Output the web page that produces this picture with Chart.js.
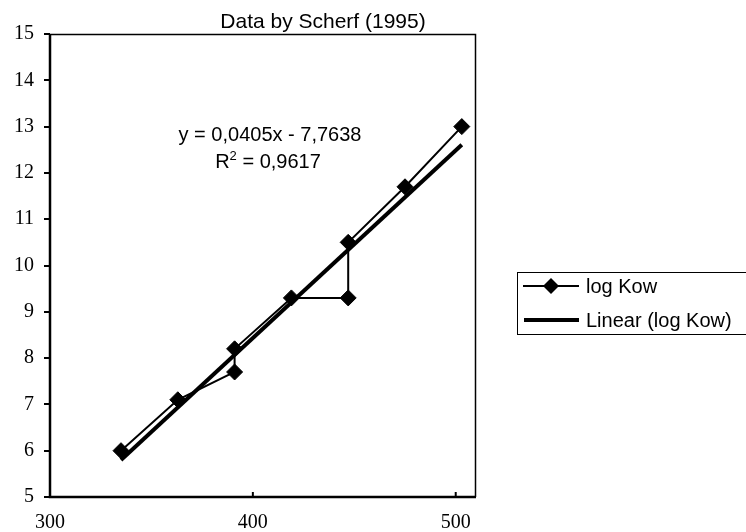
<!DOCTYPE html>
<html>
<head>
<meta charset="utf-8">
<script src="https://cdn.jsdelivr.net/npm/chart.js@4/dist/chart.umd.min.js"></script>
<style>
  html, body { margin: 0; padding: 0; background: #fff; }
  canvas { display: block; }
</style>
</head>
<body>
<canvas id="chart" width="746" height="532"></canvas>
<script>
// data
const mw = [335, 363, 391, 391, 419, 447, 447, 475, 503];
const logKow = [6.0, 7.1, 7.7, 8.2, 9.3, 9.3, 10.5, 11.7, 13.0];

// trendline end points (Excel linear fit)
const trendX = [335, 503];
const trendY = [5.80, 12.61];

const xTicks = [300, 400, 500];
const yTicks = [5, 6, 7, 8, 9, 10, 11, 12, 13, 14, 15];

const titleText = "Data by Scherf (1995)";
const eqText = "y = 0,0405x - 7,7638";
const r2Text = "0,9617";

const SANS = "'Liberation Sans', Arial, sans-serif";
const SERIF = "'Liberation Serif', 'Times New Roman', serif";

// frame, inside x ticks, title, equation and legend
const extras = {
  id: "extras",
  afterDraw(chart) {
    const { ctx, chartArea: a, scales } = chart;
    ctx.save();
    ctx.strokeStyle = "#000";
    ctx.fillStyle = "#000";

    // plot frame
    ctx.lineWidth = 1.5;
    ctx.beginPath();
    ctx.moveTo(a.left, a.top + 0.5);
    ctx.lineTo(a.right - 0.5, a.top + 0.5);
    ctx.lineTo(a.right - 0.5, a.bottom);
    ctx.stroke();
    ctx.lineWidth = 2.5;
    ctx.beginPath();
    ctx.moveTo(a.left, a.top);
    ctx.lineTo(a.left, a.bottom);
    ctx.lineTo(a.right, a.bottom);
    ctx.stroke();

    // x ticks point inwards
    ctx.lineWidth = 2;
    xTicks.forEach(v => {
      const px = scales.x.getPixelForValue(v);
      ctx.beginPath();
      ctx.moveTo(px, a.bottom);
      ctx.lineTo(px, a.bottom - 5);
      ctx.stroke();
    });

    // title
    ctx.font = "21px " + SANS;
    ctx.textAlign = "center";
    ctx.textBaseline = "alphabetic";
    ctx.fillText(titleText, 323, 28);

    // equation + R²
    ctx.font = "20px " + SANS;
    ctx.fillText(eqText, 270, 141);
    const rest = " = " + r2Text;
    const wR = ctx.measureText("R").width;
    const wRest = ctx.measureText(rest).width;
    ctx.font = "13px " + SANS;
    const w2 = ctx.measureText("2").width;
    let sx = 268 - (wR + w2 + wRest) / 2;
    ctx.textAlign = "left";
    ctx.font = "20px " + SANS;
    ctx.fillText("R", sx, 168);
    ctx.font = "13px " + SANS;
    ctx.fillText("2", sx + wR, 160);
    ctx.font = "20px " + SANS;
    ctx.fillText(rest, sx + wR + w2, 168);

    // legend
    const ds = chart.data.datasets;
    ctx.lineWidth = 1;
    ctx.strokeRect(517.5, 272.5, 240, 62);
    ctx.font = "20px " + SANS;
    ctx.textBaseline = "middle";
    // item 1
    ctx.lineWidth = 2;
    ctx.beginPath();
    ctx.moveTo(523, 286);
    ctx.lineTo(579, 286);
    ctx.stroke();
    ctx.beginPath();
    ctx.moveTo(551, 278);
    ctx.lineTo(559, 286);
    ctx.lineTo(551, 294);
    ctx.lineTo(543, 286);
    ctx.closePath();
    ctx.fill();
    ctx.fillText(ds[0].label, 586, 287);
    // item 2
    ctx.lineWidth = 4;
    ctx.beginPath();
    ctx.moveTo(524, 320);
    ctx.lineTo(579, 320);
    ctx.stroke();
    ctx.fillText(ds[1].label, 586, 321);

    ctx.restore();
  }
};

const ctx = document.getElementById("chart").getContext("2d");
new Chart(ctx, {
  type: "scatter",
  data: {
    datasets: [
      {
        label: "log Kow",
        data: mw.map((x, i) => ({ x: x, y: logKow[i] })),
        showLine: true,
        borderColor: "#000",
        backgroundColor: "#000",
        borderWidth: 2,
        pointStyle: "rectRot",
        pointRadius: 8,
        pointBorderWidth: 1,
        order: 1
      },
      {
        label: "Linear (log Kow)",
        data: trendX.map((x, i) => ({ x: x, y: trendY[i] })),
        showLine: true,
        borderColor: "#000",
        borderWidth: 4,
        pointRadius: 0,
        order: 0
      }
    ]
  },
  options: {
    responsive: false,
    animation: false,
    layout: { padding: { top: 34, right: 270, bottom: 0, left: 0 } },
    plugins: {
      legend: { display: false },
      tooltip: { enabled: false }
    },
    scales: {
      x: {
        type: "linear",
        min: 300,
        max: 510,
        afterBuildTicks: (scale) => { scale.ticks = xTicks.map(v => ({ value: v })); },
        afterFit: (scale) => { scale.height = 35; },
        grid: { display: false },
        border: { display: false },
        ticks: {
          color: "#000",
          font: { family: SERIF, size: 20 },
          padding: 6,
          maxRotation: 0
        }
      },
      y: {
        min: 5,
        max: 15,
        afterBuildTicks: (scale) => { scale.ticks = yTicks.map(v => ({ value: v })); },
        afterFit: (scale) => { scale.width = 50; },
        grid: {
          drawOnChartArea: false,
          color: "#000",
          lineWidth: 2,
          tickLength: 6
        },
        border: { display: false },
        ticks: {
          color: "#000",
          font: { family: SERIF, size: 20 },
          padding: 10
        }
      }
    }
  },
  plugins: [extras]
});
</script>
</body>
</html>
